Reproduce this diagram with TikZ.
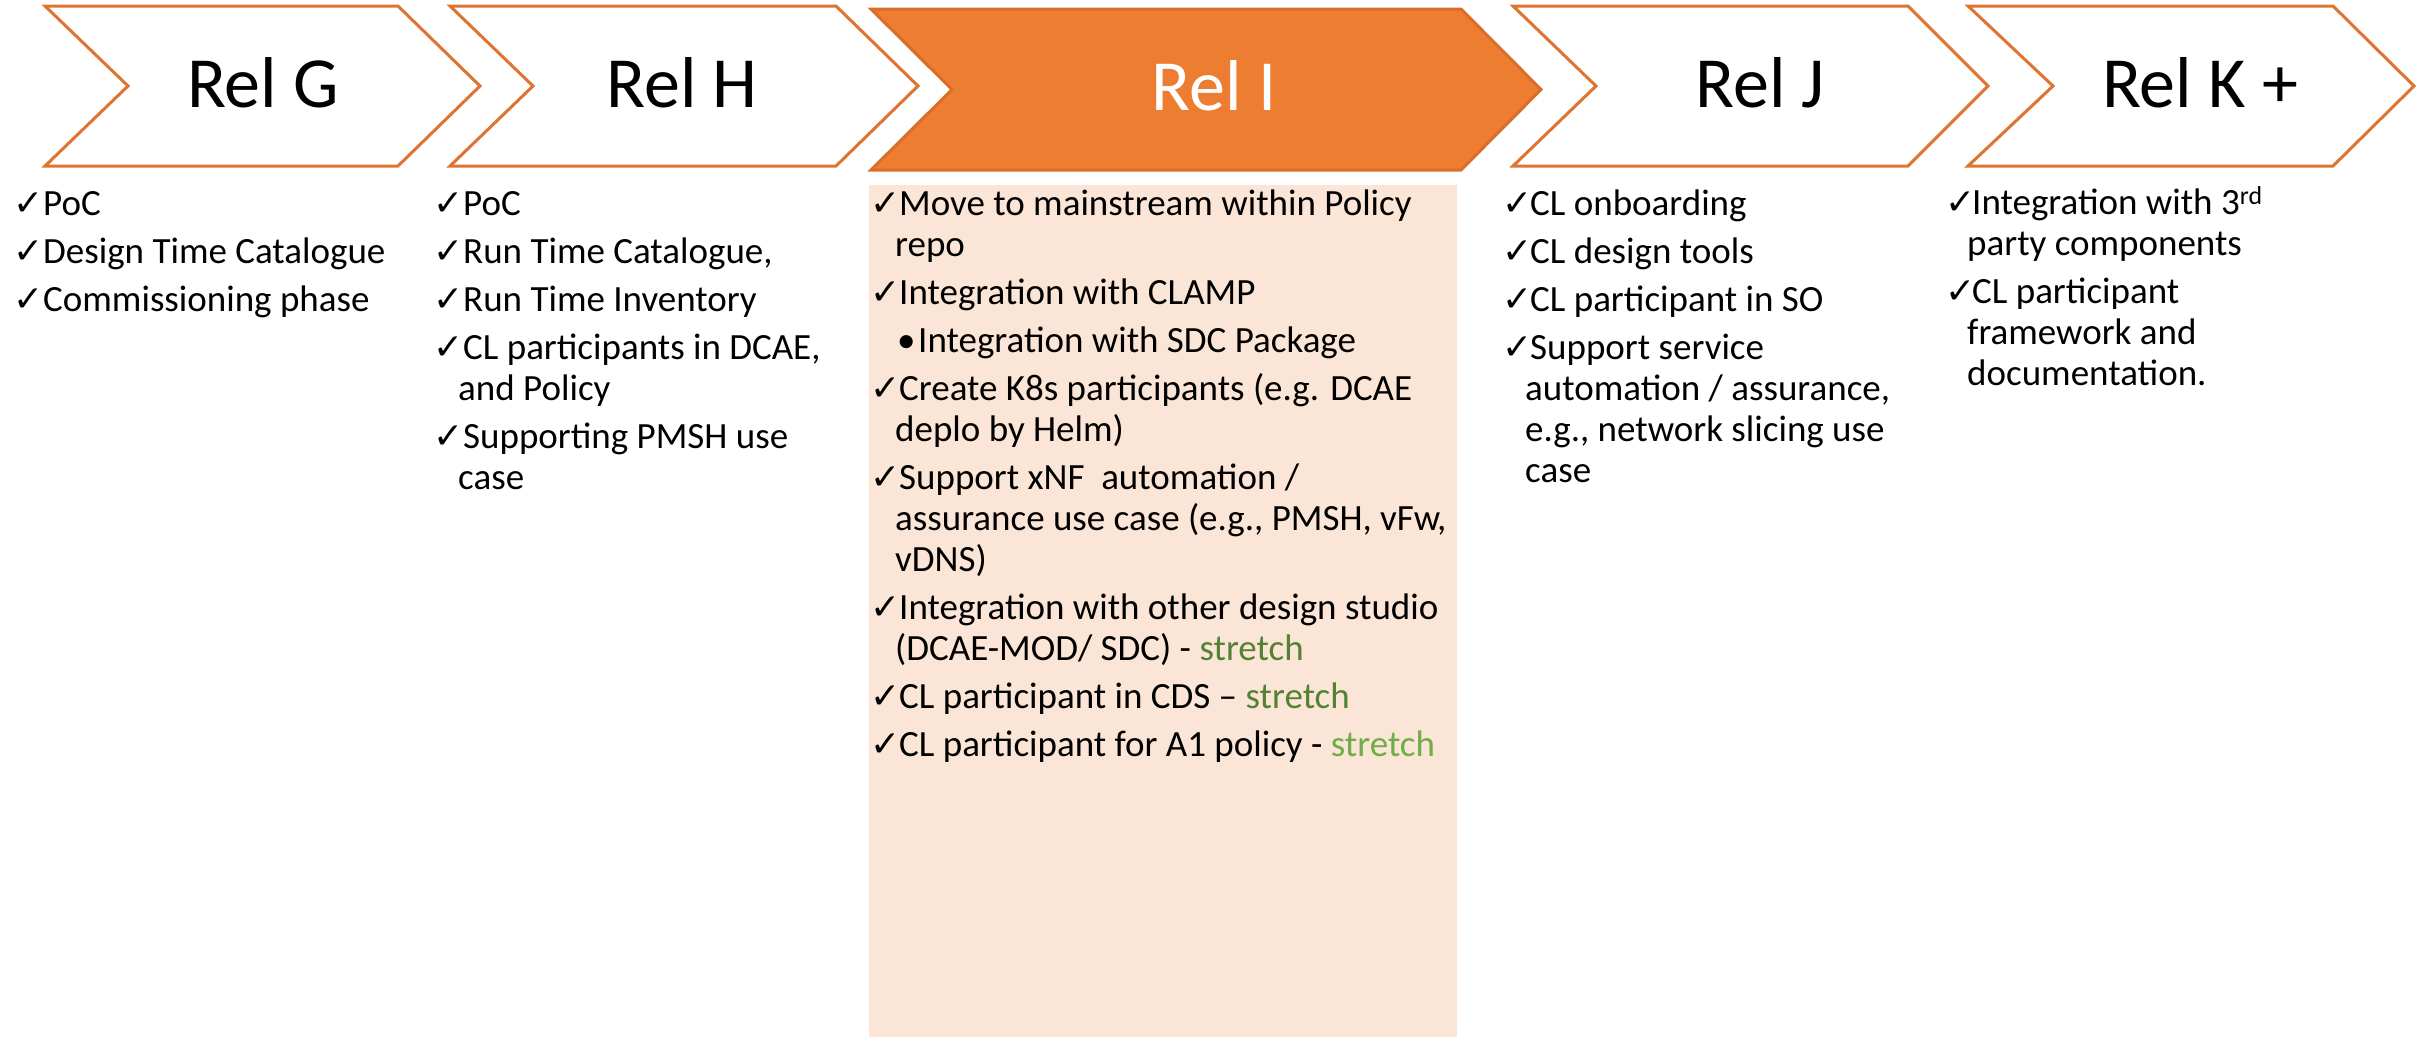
\documentclass[tikz,border=0pt]{standalone}
\usepackage{fontspec}
\setmainfont{Carlito}
\newfontfamily\symfont{DejaVu Sans}
\definecolor{chevline}{HTML}{DF7431}
\definecolor{chevIline}{HTML}{D96D2A}
\definecolor{accent}{HTML}{ED7D31}
\definecolor{peach}{HTML}{FBE5D6}
\definecolor{stretchA}{HTML}{548235}
\definecolor{stretchB}{HTML}{70AD47}
\newcommand\ckl[5]{\node[chk] (#1c) at (#2,#4) {✓};\node[txt] (#1) at (#3,#4) {#5};}
\newcommand\contline[4]{\node[txt] (#1) at (#2,#3) {#4};}
\begin{document}
\begin{tikzpicture}[x=1pt,y=-1pt,
  chev/.style={draw=chevline, line width=3pt, fill=white, line join=miter},
  chevI/.style={draw=chevIline, line width=3pt, fill=accent, line join=miter},
  lbl/.style={font=\fontsize{72}{80}\selectfont, inner sep=0, anchor=base},
  txt/.style={font=\fontsize{37}{44}\selectfont, inner sep=0, anchor=base west},
  chk/.style={font=\symfont\fontsize{36}{40}\selectfont, inner sep=0, anchor=base west}]
\useasboundingbox (0,0) rectangle (2425,1037);
% highlight box
\fill[peach] (869,185) rectangle (1457,1037);
% chevrons
\draw[chev] (45,6) -- (398,6) -- (480,86) -- (398,166) -- (45,166) -- (128,86) -- cycle;
\draw[chev] (450,6) -- (836,6) -- (918,86) -- (836,166) -- (450,166) -- (533,86) -- cycle;
\draw[chevI] (871,9) -- (1461,9) -- (1541,89.5) -- (1461,170) -- (871,170) -- (952,89.5) -- cycle;
\draw[chev] (1513,6) -- (1908,6) -- (1988,86) -- (1908,166) -- (1513,166) -- (1596,86) -- cycle;
\draw[chev] (1968,6) -- (2333,6) -- (2414,86) -- (2333,166) -- (1968,166) -- (2053,86) -- cycle;
% labels
\node[lbl] (relG) at (263,107) {Rel G};
\node[lbl] (relH) at (682,107) {Rel H};
\node[lbl,text=white] (relI) at (1214,110) {Rel I};
\node[lbl] (relJ) at (1760,107) {Rel J};
\node[lbl] (relK) at (2200,107) {Rel K +};
% Rel G
\ckl{g1}{13}{43}{215}{PoC}
\ckl{g2}{13}{43}{263}{Design Time Catalogue}
\ckl{g3}{13}{43}{311}{Commissioning phase}
% Rel H
\ckl{h1}{433}{463}{215}{PoC}
\ckl{h2}{433}{463}{263}{Run Time Catalogue,}
\ckl{h3}{433}{463}{311}{Run Time Inventory}
\ckl{h4}{433}{463}{359}{CL participants in DCAE,}
\contline{h4b}{458}{400}{and Policy}
\ckl{h5}{433}{463}{448}{Supporting PMSH use}
\contline{h5b}{458}{489}{case}
% Rel I
\ckl{i1}{870}{899}{215}{Move to mainstream within Policy}
\contline{i1b}{895}{256}{repo}
\ckl{i2}{870}{899}{304}{Integration with CLAMP}
\node[txt] (i3c) at (897,352) {•};
\node[txt] (i3) at (918,352) {Integration with SDC Package};
\ckl{i4}{870}{899}{400}{Create K8s participants (e.g. DCAE}
\contline{i4b}{895}{441}{deplo by Helm)}
\ckl{i5}{870}{899}{489}{Support xNF\ \ automation /}
\contline{i5b}{895}{530}{assurance use case (e.g., PMSH, vFw,}
\contline{i5c}{895}{571}{vDNS)}
\ckl{i6}{870}{899}{619}{Integration with other design studio}
\contline{i6b}{895}{660}{(DCAE-MOD/ SDC) - \textcolor{stretchA}{stretch}}
\ckl{i7}{870}{899}{708}{CL participant in CDS – \textcolor{stretchA}{stretch}}
\ckl{i8}{870}{899}{756}{CL participant for A1 policy - \textcolor{stretchB}{stretch}}
% Rel J
\ckl{j1}{1502}{1530}{215}{CL onboarding}
\ckl{j2}{1502}{1530}{263}{CL design tools}
\ckl{j3}{1502}{1530}{311}{CL participant in SO}
\ckl{j4}{1502}{1530}{359}{Support service}
\contline{j4b}{1525}{400}{automation / assurance,}
\contline{j4c}{1525}{441}{e.g., network slicing use}
\contline{j4d}{1525}{482}{case}
% Rel K
\ckl{k1}{1945}{1972}{214}{Integration with 3\textsuperscript{rd}}
\contline{k1b}{1967}{255}{party components}
\ckl{k2}{1945}{1972}{303}{CL participant}
\contline{k2b}{1967}{344}{framework and}
\contline{k2c}{1967}{385}{documentation.}
\end{tikzpicture}
\end{document}
